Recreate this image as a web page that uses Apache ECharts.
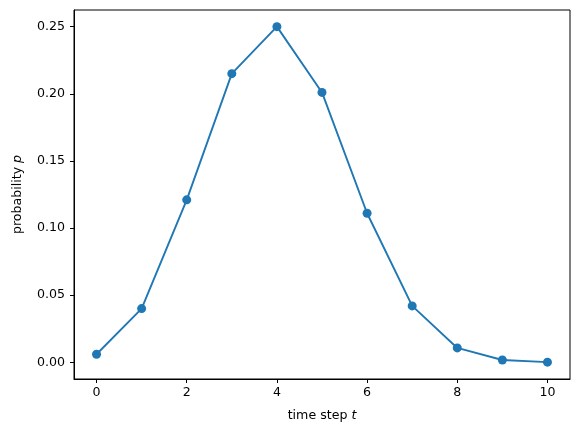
<!DOCTYPE html>
<html>
<head>
<meta charset="utf-8">
<script src="https://cdn.jsdelivr.net/npm/echarts@6/dist/echarts.min.js"></script>
<style>
  html, body { margin: 0; padding: 0; background: #fff; }
  #chart { width: 580px; height: 436px; }
</style>
</head>
<body>
<div id="chart"></div>
<script>
// time steps and probabilities
const steps = [0, 1, 2, 3, 4, 5, 6, 7, 8, 9, 10];
const probs = [0.006, 0.040, 0.121, 0.215, 0.250, 0.201, 0.111, 0.042, 0.0107, 0.0017, 0.0001];
const xTicks = [0, 2, 4, 6, 8, 10];
const yTicks = [0, 0.05, 0.10, 0.15, 0.20, 0.25];

const font = "DejaVu Sans";
const fs = 12.6;
const chart = echarts.init(document.getElementById("chart"));

chart.setOption({
  animation: false,
  grid: {
    left: 74, right: 10, top: 10, bottom: 57,
    show: true, borderColor: "#000", borderWidth: 1
  },
  xAxis: {
    type: "value",
    min: -0.5,
    max: 10.5,
    splitLine: { show: false },
    axisLine: { onZero: false, lineStyle: { color: "#000", width: 1 } },
    axisTick: { inside: false, length: 4, lineStyle: { color: "#000" }, customValues: xTicks },
    axisLabel: {
      customValues: xTicks,
      margin: 7,
      color: "#000",
      fontFamily: font,
      fontSize: fs,
      formatter: v => String(v)
    },
    name: "{n|time step }{i|t}",
    nameLocation: "middle",
    nameGap: 30,
    nameTextStyle: {
      rich: {
        n: { fontFamily: font, fontSize: fs, color: "#000" },
        i: { fontFamily: font, fontSize: fs, color: "#000", fontStyle: "italic" }
      }
    }
  },
  yAxis: {
    type: "value",
    min: -0.01244,
    max: 0.2624,
    splitLine: { show: false },
    axisLine: { show: true, onZero: false, lineStyle: { color: "#000", width: 1 } },
    axisTick: { show: true, length: 4, lineStyle: { color: "#000" }, customValues: yTicks },
    axisLabel: {
      customValues: yTicks,
      margin: 9,
      color: "#000",
      fontFamily: font,
      fontSize: fs,
      formatter: v => v.toFixed(2)
    },
    name: "{n|probability }{i|p}",
    nameLocation: "middle",
    nameRotate: 90,
    nameGap: 50,
    nameTextStyle: {
      rich: {
        n: { fontFamily: font, fontSize: fs, color: "#000" },
        i: { fontFamily: font, fontSize: fs, color: "#000", fontStyle: "italic" }
      }
    }
  },
  series: [{
    type: "line",
    data: steps.map((s, i) => [s, probs[i]]),
    symbol: "circle",
    symbolSize: 9,
    itemStyle: { color: "#1f77b4" },
    lineStyle: { color: "#1f77b4", width: 1.9 }
  }]
});
</script>
</body>
</html>
